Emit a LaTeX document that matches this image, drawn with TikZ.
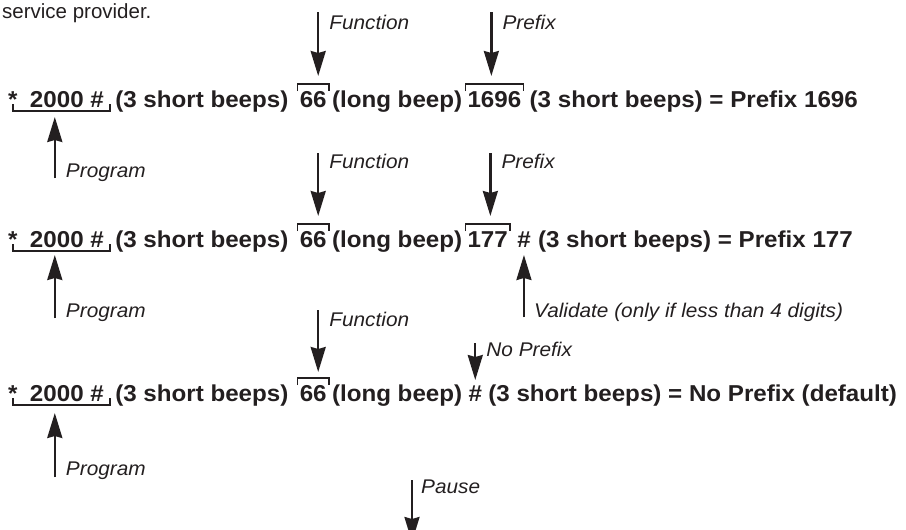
\documentclass[tikz,border=0pt]{standalone}
\usepackage{fontspec}
\setmainfont{Liberation Sans}
\newfontfamily\rowfont{Liberation Sans}[FakeStretch=1.05]
\usetikzlibrary{arrows.meta,calc}
\definecolor{ink}{HTML}{231F20}
\begin{document}
\begin{tikzpicture}[x=1pt,y=-1pt,
  txt/.style={inner sep=0pt,anchor=base west,text=ink,font=\rowfont\bfseries\fontsize{23}{27}\selectfont},
  lab/.style={inner sep=0pt,anchor=base west,text=ink,font=\rowfont\itshape\fontsize{19.8}{23}\selectfont},
  top/.style={inner sep=0pt,anchor=base west,text=ink,font=\fontsize{20.5}{24}\selectfont},
  arr/.style={draw=ink,fill=ink,line width=2.3pt,-{Stealth[length=25pt,width=15pt,inset=2pt]}},
  brk/.style={draw=ink,line width=1.5pt}]
\useasboundingbox (0,0) rectangle (906,530);
\clip (0,0) rectangle (906,530);

\node[top] (intro) at (2,18) {service provider.};

% ---------- Row 1 ----------
\node[txt] (r1s) at (8,107) {*};
\node[txt] (r1p) at ($(r1s.base east)+(12,0)$) {2000 \#};
\node[txt] (r1b) at ($(r1p.base east)+(11,0)$) {(3 short beeps)};
\node[txt] (r1f) at ($(r1b.base east)+(11,0)$) {66};
\node[txt] (r1l) at ($(r1f.base east)+(5,0)$) {(long beep)};
\node[txt] (r1x) at ($(r1l.base east)+(5,0)$) {1696};
\node[txt] (r1e) at ($(r1x.base east)+(8,0)$) {(3 short beeps) = Prefix 1696};

\coordinate (r1ul) at ($(r1s.base)+(0,-3)$);
\coordinate (r1ur) at ($(r1p.base east)+(6,-3)$);
\draw[brk] (r1ul) -- ($(r1ul)+(0,7)$) -- ($(r1ur)+(0,7)$) -- (r1ur);
\draw[brk] ($(r1f.base west)+(-2,-16)$) -- ($(r1f.base west)+(-2,-23)$) -- ($(r1f.base east)+(2,-23)$) -- ($(r1f.base east)+(2,-16)$);
\draw[brk] ($(r1x.base west)+(-2,-16)$) -- ($(r1x.base west)+(-2,-23)$) -- ($(r1x.base east)+(2,-23)$) -- ($(r1x.base east)+(2,-16)$);

\coordinate (r1fT) at ($(r1f.base)+(5,-95)$);
\coordinate (r1fH) at ($(r1f.base)+(5,-31)$);
\draw[arr] (r1fT) -- (r1fH);
\node[lab] (r1fL) at ($(r1fT)+(11,17)$) {Function};

\coordinate (r1xT) at ($(r1x.base west)+(24,-95)$);
\coordinate (r1xH) at ($(r1x.base west)+(24,-31)$);
\draw[arr] (r1xT) -- (r1xH);
\node[lab] (r1xL) at ($(r1xT)+(11,17)$) {Prefix};

\coordinate (r1gH) at ($(r1p.base west)+(25,10)$);
\coordinate (r1gT) at ($(r1p.base west)+(25,71)$);
\draw[arr] (r1gT) -- (r1gH);
\node[lab] (r1gL) at ($(r1gT)+(11,-1)$) {Program};

% ---------- Row 2 ----------
\node[txt] (r2s) at (8,247) {*};
\node[txt] (r2p) at ($(r2s.base east)+(12,0)$) {2000 \#};
\node[txt] (r2b) at ($(r2p.base east)+(11,0)$) {(3 short beeps)};
\node[txt] (r2f) at ($(r2b.base east)+(11,0)$) {66};
\node[txt] (r2l) at ($(r2f.base east)+(5,0)$) {(long beep)};
\node[txt] (r2x) at ($(r2l.base east)+(5,0)$) {177};
\node[txt] (r2h) at ($(r2x.base east)+(9,0)$) {\#};
\node[txt] (r2e) at ($(r2h.base east)+(7,0)$) {(3 short beeps) = Prefix 177};

\coordinate (r2ul) at ($(r2s.base)+(0,-3)$);
\coordinate (r2ur) at ($(r2p.base east)+(6,-3)$);
\draw[brk] (r2ul) -- ($(r2ul)+(0,7)$) -- ($(r2ur)+(0,7)$) -- (r2ur);
\draw[brk] ($(r2f.base west)+(-2,-16)$) -- ($(r2f.base west)+(-2,-23)$) -- ($(r2f.base east)+(2,-23)$) -- ($(r2f.base east)+(2,-16)$);
\draw[brk] ($(r2x.base west)+(-2,-16)$) -- ($(r2x.base west)+(-2,-23)$) -- ($(r2x.base east)+(2,-23)$) -- ($(r2x.base east)+(2,-16)$);

\coordinate (r2fT) at ($(r2f.base)+(5,-94)$);
\coordinate (r2fH) at ($(r2f.base)+(5,-31)$);
\draw[arr] (r2fT) -- (r2fH);
\node[lab] (r2fL) at ($(r2fT)+(11,15)$) {Function};

\coordinate (r2xT) at ($(r2x.base west)+(23,-94)$);
\coordinate (r2xH) at ($(r2x.base west)+(23,-31)$);
\draw[arr] (r2xT) -- (r2xH);
\node[lab] (r2xL) at ($(r2xT)+(11,15)$) {Prefix};

\coordinate (r2vH) at ($(r2h.base)+(0,8)$);
\coordinate (r2vT) at ($(r2h.base)+(0,70)$);
\draw[arr] (r2vT) -- (r2vH);
\node[lab] (r2vL) at ($(r2vT)+(10,0)$) {Validate (only if less than 4 digits)};

\coordinate (r2gH) at ($(r2p.base west)+(25,8)$);
\coordinate (r2gT) at ($(r2p.base west)+(25,71)$);
\draw[arr] (r2gT) -- (r2gH);
\node[lab] (r2gL) at ($(r2gT)+(11,-1)$) {Program};

% ---------- Row 3 ----------
\node[txt] (r3s) at (8,401) {*};
\node[txt] (r3p) at ($(r3s.base east)+(12,0)$) {2000 \#};
\node[txt] (r3b) at ($(r3p.base east)+(11,0)$) {(3 short beeps)};
\node[txt] (r3f) at ($(r3b.base east)+(11,0)$) {66};
\node[txt] (r3l) at ($(r3f.base east)+(5,0)$) {(long beep)};
\node[txt] (r3h) at ($(r3l.base east)+(6,0)$) {\#};
\node[txt] (r3e) at ($(r3h.base east)+(6,0)$) {(3 short beeps) = No Prefix (default)};

\coordinate (r3ul) at ($(r3s.base)+(0,-3)$);
\coordinate (r3ur) at ($(r3p.base east)+(6,-3)$);
\draw[brk] (r3ul) -- ($(r3ul)+(0,7)$) -- ($(r3ur)+(0,7)$) -- (r3ur);
\draw[brk] ($(r3f.base west)+(-2,-16)$) -- ($(r3f.base west)+(-2,-23)$) -- ($(r3f.base east)+(2,-23)$) -- ($(r3f.base east)+(2,-16)$);

\coordinate (r3fT) at ($(r3f.base)+(5,-91)$);
\coordinate (r3fH) at ($(r3f.base)+(5,-29)$);
\draw[arr] (r3fT) -- (r3fH);
\node[lab] (r3fL) at ($(r3fT)+(11,16)$) {Function};

\coordinate (r3nT) at ($(r3h.base)+(0,-58)$);
\coordinate (r3nH) at ($(r3h.base)+(0,-21)$);
\draw[arr] (r3nT) -- (r3nH);
\node[lab] (r3nL) at ($(r3nT)+(11,13)$) {No Prefix};

\coordinate (r3gH) at ($(r3p.base west)+(25,12)$);
\coordinate (r3gT) at ($(r3p.base west)+(25,76)$);
\draw[arr] (r3gT) -- (r3gH);
\node[lab] (r3gL) at ($(r3gT)+(11,-2)$) {Program};

% ---------- Pause ----------
\coordinate (pT) at (412,480);
\coordinate (pH) at (412,542);
\draw[arr] (pT) -- (pH);
\node[lab] (pL) at ($(pT)+(9,13)$) {Pause};
\end{tikzpicture}
\end{document}
